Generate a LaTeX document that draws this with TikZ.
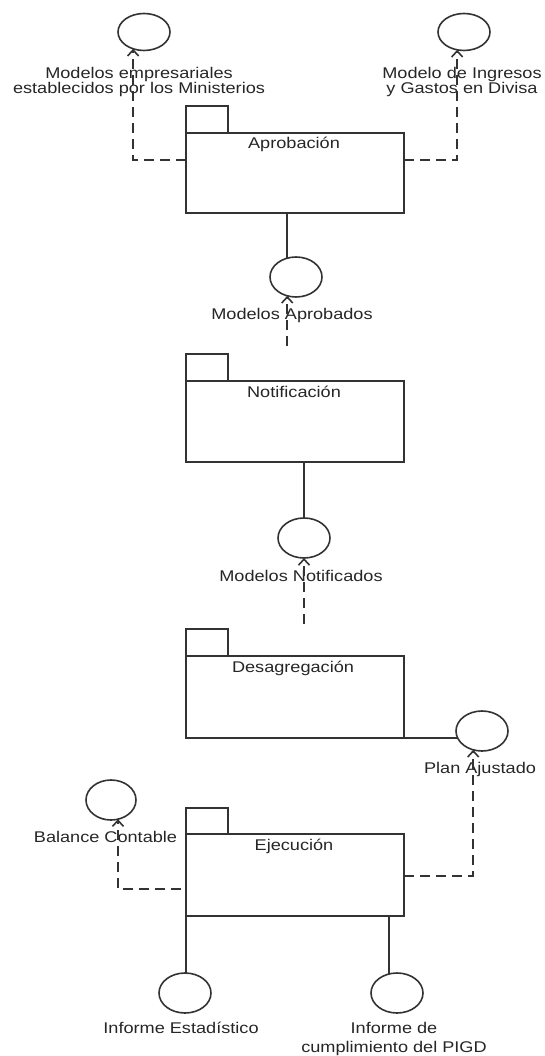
\documentclass[tikz,border=0pt]{standalone}
\usepackage{fontspec}
\setmainfont{Liberation Sans}[FakeStretch=1.17]
\usetikzlibrary{shapes.geometric,arrows.meta,calc}

\begin{document}
\begin{tikzpicture}[x=1pt,y=-1pt,
  every node/.style={inner sep=0pt, outer sep=0pt},
  ln/.style={line width=1.6pt, draw=black!80},
  pkg/.style={ln, rectangle, minimum width=218pt, minimum height=82pt},
  pkgtab/.style={ln, rectangle, minimum width=42pt, minimum height=27pt, anchor=south west},
  iface/.style={ln, ellipse, minimum width=52pt, minimum height=40pt},
  txt/.style={font=\fontsize{15.5}{15}\selectfont, text=black!85, anchor=base, align=center},
  dep/.style={ln, dash pattern=on 10pt off 6pt, -{Straight Barb[length=6pt,width=11pt]}},
  assoc/.style={ln}
]
\useasboundingbox (0,0) rectangle (544,1056);

% packages
\node[pkg, minimum height=80pt] (aprob) at (295,173) {};
\node[pkgtab] (aprobtab) at (aprob.north west) {};
\node[txt] (aprobl) at (294,149) {Aprobación};

\node[pkg, minimum height=81pt] (notif) at (295,421.5) {};
\node[pkgtab] (notiftab) at (notif.north west) {};
\node[txt] (notifl) at (294,397) {Notificación};

\node[pkg] (desag) at (295,697) {};
\node[pkgtab] (desagtab) at (desag.north west) {};
\node[txt] (desagl) at (293,672) {Desagregación};

\node[pkg] (ejec) at (295,875) {};
\node[pkgtab, minimum height=26pt] (ejectab) at (ejec.north west) {};
\node[txt] (ejecl) at (294,850) {Ejecución};

% interfaces (multi-line labels are placed by the baseline of their last line)
\node[iface, minimum height=37pt] (c1) at (144,32) {};
\node[txt] (c1l) at (139,94) {Modelos empresariales\\establecidos por los Ministerios};
\node[iface, minimum height=37pt] (c2) at (464,32) {};
\node[txt] (c2l) at (462,94) {Modelo de Ingresos\\y Gastos en Divisa};

\node[iface] (cap) at (296,277) {};
\node[txt] (capl) at (292,319) {Modelos Aprobados};

\node[iface] (cn) at (304,538) {};
\node[txt] (cnl) at (301,581) {Modelos Notificados};

\node[iface] (cpl) at (482,731) {};
\node[txt] (cpll) at (480,773) {Plan Ajustado};

\node[iface, minimum width=50pt] (cbal) at (111,800) {};
\node[txt] (cball) at (105.5,842) {Balance Contable};

\node[iface] (cie) at (185,993) {};
\node[txt] (ciel) at (181,1033) {Informe Estadístico};

\node[iface] (cic) at (397,993) {};
\node[txt, font=\fontsize{15.5}{19}\selectfont] (cicl) at (394,1052) {Informe de\\cumplimiento del PIGD};

% connectors
\draw[dep] ([yshift=13pt]aprob.west) -| (c1.-123.3);
\draw[dep] ([yshift=13pt]aprob.east) -| (c2.-111.5);
\draw[assoc] (cap.115.6 |- aprob.south) -- (cap.115.6);
\draw[dep] ($(cap.-115.6 |- notiftab.north)+(0,-8)$) -- (cap.-115.6);
\draw[assoc] (cn.north |- notif.south) -- (cn.north);
\draw[dep] ($(cn.south |- desagtab.north)+(0,-5)$) -- (cn.south);
\draw[assoc] (desag.south east) -- (cpl.-164);
\draw[dep] ([yshift=-1pt]ejec.east) -| (cpl.-115.6);
\draw[dep] ([xshift=-5pt,yshift=-14pt]ejec.west) -| (cbal.-70);
\draw[assoc] (ejec.south west) -- (ejec.south west |- cie.north);
\draw[assoc] (cic.112.8 |- ejec.south) -- (cic.112.8);
\end{tikzpicture}
\end{document}
